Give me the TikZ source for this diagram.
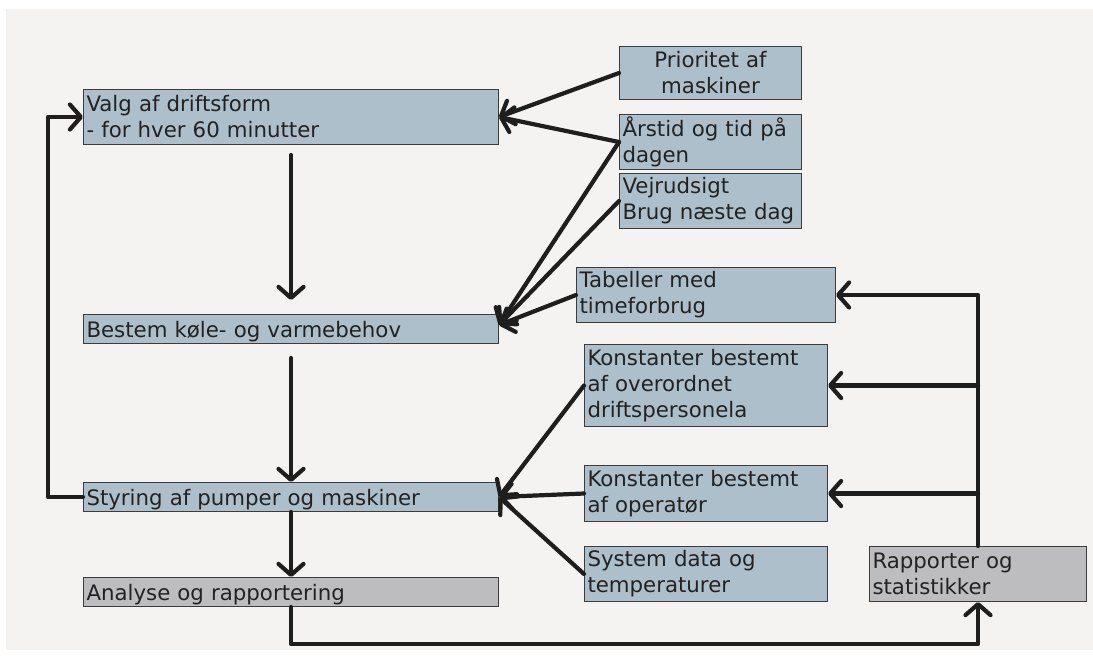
\documentclass[tikz,border=0pt]{standalone}
\usepackage{fontspec}
\setmainfont{DejaVu Sans}
\usetikzlibrary{arrows.meta}
\definecolor{bg}{HTML}{F4F3F1}
\definecolor{boxfill}{HTML}{ADBFCB}
\definecolor{grayfill}{HTML}{BDBDBF}
\definecolor{boxline}{HTML}{3C3C3C}
\definecolor{ln}{HTML}{1E1E1E}
\definecolor{txt}{HTML}{222222}
\tikzset{
  box/.style={draw=boxline, fill=boxfill, line width=1pt, anchor=north west,
    inner xsep=3pt, inner ysep=0pt, align=left, text=txt,
    font=\fontsize{21.3}{26}\selectfont},
  graybox/.style={box, fill=grayfill},
  oneline/.style={text height=21.3pt, text depth=3.7pt},
  conn/.style={line width=4.2pt, draw=ln, line join=round, line cap=round},
  arr/.style={conn, -{Straight Barb[length=11pt, width=25pt, round]}},
}
\begin{document}
\begin{tikzpicture}[x=1pt, y=-1pt]
\useasboundingbox (0,0) rectangle (1093,657);
\fill[bg] (6,9) rectangle (1093,650);
% left column
\node[box, minimum width=415pt, minimum height=55pt, text width=409pt] (valg) at (83,89)
  {Valg af driftsform\\- for hver 60 minutter};
\node[box, oneline, minimum width=415pt, minimum height=29pt, text width=409pt] (bestem) at (83,314)
  {Bestem køle- og varmebehov};
\node[box, oneline, minimum width=415pt, minimum height=29pt, text width=409pt] (styring) at (83,482)
  {Styring af pumper og maskiner};
\node[graybox, oneline, minimum width=415pt, minimum height=29pt, text width=409pt] (analyse) at (83,577)
  {Analyse og rapportering};
% right column
\node[box, align=center, minimum width=182pt, minimum height=53pt, text width=176pt] (prio) at (619,46)
  {Prioritet af\\maskiner};
\node[box, minimum width=182pt, minimum height=55pt, text width=176pt] (aars) at (619,114)
  {Årstid og tid på\\dagen};
\node[box, minimum width=182pt, minimum height=55pt, text width=176pt] (vejr) at (619,173)
  {Vejrudsigt\\Brug næste dag};
\node[box, minimum width=259pt, minimum height=55pt, text width=253pt] (tab) at (576,267)
  {Tabeller med\\timeforbrug};
\node[box, minimum width=243pt, minimum height=82pt, text width=237pt] (k1) at (584,344)
  {Konstanter bestemt\\af overordnet\\driftspersonela};
\node[box, minimum width=243pt, minimum height=56pt, text width=237pt] (k2) at (584,465)
  {Konstanter bestemt\\af operatør};
\node[box, minimum width=243pt, minimum height=55pt, text width=237pt] (sys) at (584,546)
  {System data og\\temperaturer};
\node[graybox, minimum width=217pt, minimum height=55pt, text width=211pt] (rap) at (869,546)
  {Rapporter og\\statistikker};
% main flow
\draw[arr] ([yshift=-10pt]valg.south) -- ([yshift=14pt]bestem.north);
\draw[arr] ([yshift=-14pt]bestem.south) -- (styring.north);
\draw[arr] (styring.south) -- (analyse.north);
\draw[arr] (styring.west) -- ++(-35,0) |- (valg.west);
\draw[arr] (analyse.south) -- ++(0,37) -| (rap.south);
% inputs
\draw[arr] (prio.west) -- (valg.east);
\draw[arr] (aars.west) -- (valg.east);
\draw[arr] (aars.west) -- ([yshift=4pt]bestem.east);
\draw[arr] (vejr.west) -- ([yshift=4pt]bestem.east);
\draw[arr] (tab.west) -- ([yshift=4pt]bestem.east);
\draw[arr] (k1.west) -- (styring.east);
\draw[arr] (k2.west) -- (styring.east);
\draw[arr] (sys.west) -- (styring.east);
% feedback
\draw[arr] (rap.north) |- (tab.east);
\draw[arr] (rap.north |- k1.east) -- (k1.east);
\draw[arr] (rap.north |- k2.east) -- (k2.east);
\end{tikzpicture}
\end{document}
